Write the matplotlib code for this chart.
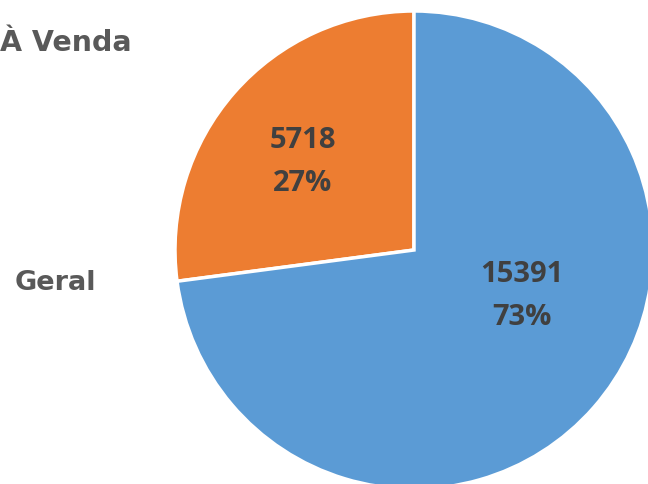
import matplotlib
matplotlib.use("Agg")
import matplotlib.pyplot as plt

# slice data (counterclockwise from 12 o'clock)
labels = ["À Venda", "Geral"]
values = [5718, 15391]
colors = ["#ED7D31", "#5B9BD5"]

# where the value labels sit inside each slice (pixel coords, y up)
label_pos = [(303, 485 - 162), (522, 485 - 296)]
# category labels at the left
cat_pos = [(0, 485 - 43), (15, 485 - 283)]

fig = plt.figure(figsize=(6.48, 4.85), dpi=100)
ax = fig.add_axes([0, 0, 1, 1])

total = sum(values)

wedges, texts, autotexts = ax.pie(
    values,
    colors=colors,
    startangle=90,
    counterclock=True,
    center=(414, 485 - 251),
    radius=239,
    autopct=lambda p: "%d\n%d%%" % (round(p * total / 100), round(p)),
    wedgeprops=dict(edgecolor="white", linewidth=2.5),
    textprops=dict(fontsize=21, fontweight="bold", color="#404040",
                   family="Open Sans", linespacing=1.6),
    frame=True,
)
ax.set_xlim(0, 648)
ax.set_ylim(0, 485)
ax.axis("off")

for t, pos in zip(autotexts, label_pos):
    t.set_position(pos)
    t.set_ha("center")
    t.set_va("center")

cat_sizes = [20.5, 19.5]
for lab, (x, y), fs in zip(labels, cat_pos, cat_sizes):
    ax.text(x, y, lab, fontsize=fs, fontweight="bold", color="#595959",
            family="DejaVu Sans", ha="left", va="center")

fig.savefig("out.png", dpi=100)
